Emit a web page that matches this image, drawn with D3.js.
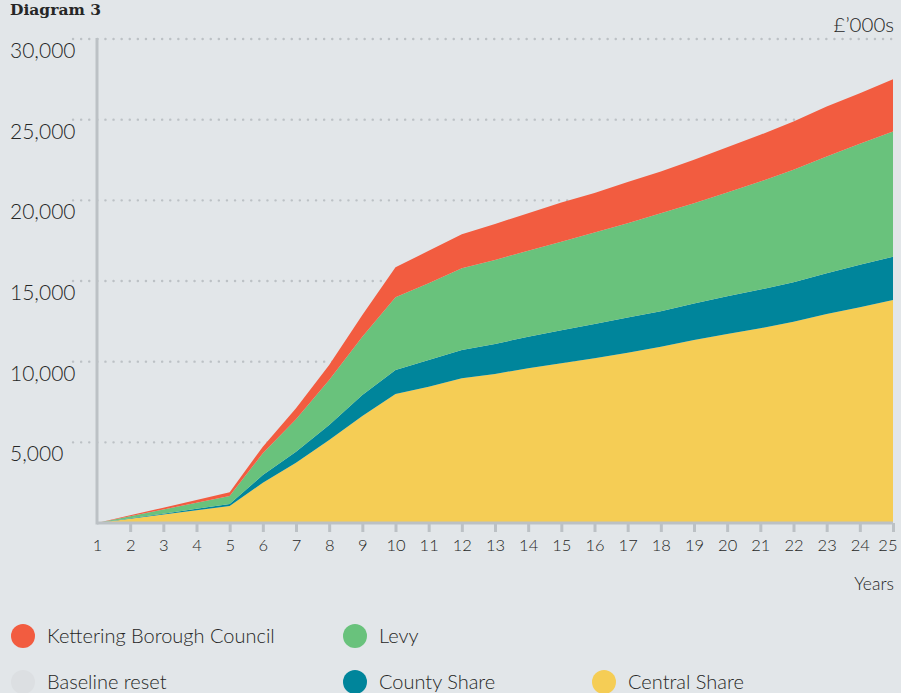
<!DOCTYPE html>
<html>
<head>
<meta charset="utf-8">
<script src="https://cdn.jsdelivr.net/npm/d3@7"></script>
<style>
  html, body { margin: 0; padding: 0; background: #e2e6e9; }
  svg { display: block; }
  text { font-family: Lato, "Open Sans", sans-serif; fill: #262626; }
</style>
</head>
<body>
<svg id="chart" width="901" height="693"></svg>
<script>
// years along the x axis
const years = d3.range(1, 26);

// values per layer, £'000s
const centralShare = [0, 260, 530, 790, 1050, 2500, 3740, 5150, 6630, 8000, 8450, 8970, 9240, 9590, 9900, 10210, 10560, 10930, 11350, 11720, 12070, 12480, 12960, 13370, 13830];
const countyShare = [0, 30, 50, 90, 130, 480, 680, 930, 1310, 1490, 1660, 1760, 1860, 1960, 2050, 2120, 2170, 2200, 2250, 2330, 2400, 2450, 2520, 2630, 2680];
const levy = [0, 130, 260, 370, 490, 1340, 2010, 2790, 3610, 4500, 4750, 5060, 5200, 5330, 5490, 5670, 5850, 6070, 6220, 6430, 6690, 6960, 7230, 7500, 7750];
const kettering = [0, 60, 110, 170, 230, 410, 680, 930, 1350, 1860, 2010, 2110, 2240, 2320, 2420, 2460, 2560, 2580, 2690, 2810, 2900, 2990, 3100, 3140, 3250];

const yTicks = [5000, 10000, 15000, 20000, 25000, 30000];

const layerKeys = ['central', 'county', 'levy', 'kettering'];
const colors = {
    central: '#f5cd55',
    county: '#00859b',
    levy: '#69c27c',
    kettering: '#f25c40',
    baseline: '#dcdfe2'
};

const legendItems = [
    { label: 'Kettering Borough Council', key: 'kettering', col: 0, row: 0 },
    { label: 'Levy', key: 'levy', col: 1, row: 0 },
    { label: 'Baseline reset', key: 'baseline', col: 0, row: 1 },
    { label: 'County Share', key: 'county', col: 1, row: 1 },
    { label: 'Central Share', key: 'central', col: 2, row: 1 }
];

const rows = years.map((yr, i) => ({
    year: yr,
    central: centralShare[i],
    county: countyShare[i],
    levy: levy[i],
    kettering: kettering[i]
}));

const svg = d3.select('#chart');
const plotLeft = 97, plotRight = 893, plotTop = 39, plotBottom = 523;

const x = d3.scaleLinear().domain([1, 25]).range([plotLeft, plotRight]);
const y = d3.scaleLinear().domain([0, 30000]).range([plotBottom, plotTop]);

// dotted grid lines
svg.append('g')
    .selectAll('line')
    .data(yTicks)
    .join('line')
    .attr('x1', 73)
    .attr('x2', plotRight)
    .attr('y1', d => y(d))
    .attr('y2', d => y(d))
    .attr('stroke', '#bcc1c5')
    .attr('stroke-width', 2.4)
    .attr('stroke-linecap', 'round')
    .attr('stroke-dasharray', '0.1,8');

// stacked areas
const stack = d3.stack().keys(layerKeys);
const series = stack(rows);
const area = d3.area()
    .x(d => x(d.data.year))
    .y0(d => y(d[0]))
    .y1(d => y(d[1]));

svg.append('g')
    .selectAll('path')
    .data(series)
    .join('path')
    .attr('fill', d => colors[d.key])
    .attr('d', area);

// y axis labels (hang below the grid line)
svg.append('g')
    .selectAll('text')
    .data(yTicks)
    .join('text')
    .attr('x', 10)
    .attr('y', d => y(d) + 19)
    .attr('font-size', 21)
    .attr('font-weight', 300)
    .text(d => d3.format(',')(d));

// axis lines
svg.append('line')
    .attr('x1', plotLeft).attr('x2', plotLeft)
    .attr('y1', plotTop - 1).attr('y2', plotBottom + 1.5)
    .attr('stroke', '#bcc1c5').attr('stroke-width', 3);

const xAxis = d3.axisBottom(x)
    .tickValues(years)
    .tickSize(9)
    .tickPadding(7)
    .tickFormat(d3.format('d'));

const gx = svg.append('g')
    .attr('transform', `translate(0,${plotBottom})`)
    .call(xAxis);
gx.select('.domain')
    .attr('d', `M${plotLeft},0H${plotRight}`)
    .attr('stroke', '#bcc1c5')
    .attr('stroke-width', 3);
gx.selectAll('.tick line')
    .attr('stroke', '#bcc1c5')
    .attr('stroke-width', 3)
    .filter(d => d === 1).remove();
gx.selectAll('.tick text')
    .attr('font-family', 'Lato, sans-serif')
    .attr('font-size', 16.5)
    .attr('font-weight', 300)
    .attr('fill', '#262626');
// last label pulled in so it stays on the page
gx.selectAll('.tick text')
    .filter(d => d === 25)
    .attr('text-anchor', 'end')
    .attr('x', 4);

// titles and units
svg.append('text')
    .attr('x', 10).attr('y', 15)
    .attr('font-weight', 'bold')
    .attr('font-size', 15.5)
    .style('font-family', '"DejaVu Serif", serif')
    .attr('fill', '#1a1a1a')
    .text('Diagram 3');

svg.append('text')
    .attr('x', 894).attr('y', 32)
    .attr('text-anchor', 'end')
    .attr('font-size', 20.5)
    .attr('font-weight', 300)
    .text('£\u2019000s');

svg.append('text')
    .attr('x', 894).attr('y', 590)
    .attr('text-anchor', 'end')
    .attr('font-size', 17.5)
    .attr('font-weight', 300)
    .text('Years');

// legend
const colX = [23, 355, 604];
const rowY = [636, 682];
const legend = svg.append('g')
    .selectAll('g')
    .data(legendItems)
    .join('g')
    .attr('transform', d => `translate(${colX[d.col]},${rowY[d.row]})`);
legend.append('circle')
    .attr('r', 12)
    .attr('fill', d => colors[d.key]);
legend.append('text')
    .attr('x', 24)
    .attr('y', 7)
    .attr('font-size', 20)
    .attr('font-weight', 300)
    .text(d => d.label);
</script>
</body>
</html>
